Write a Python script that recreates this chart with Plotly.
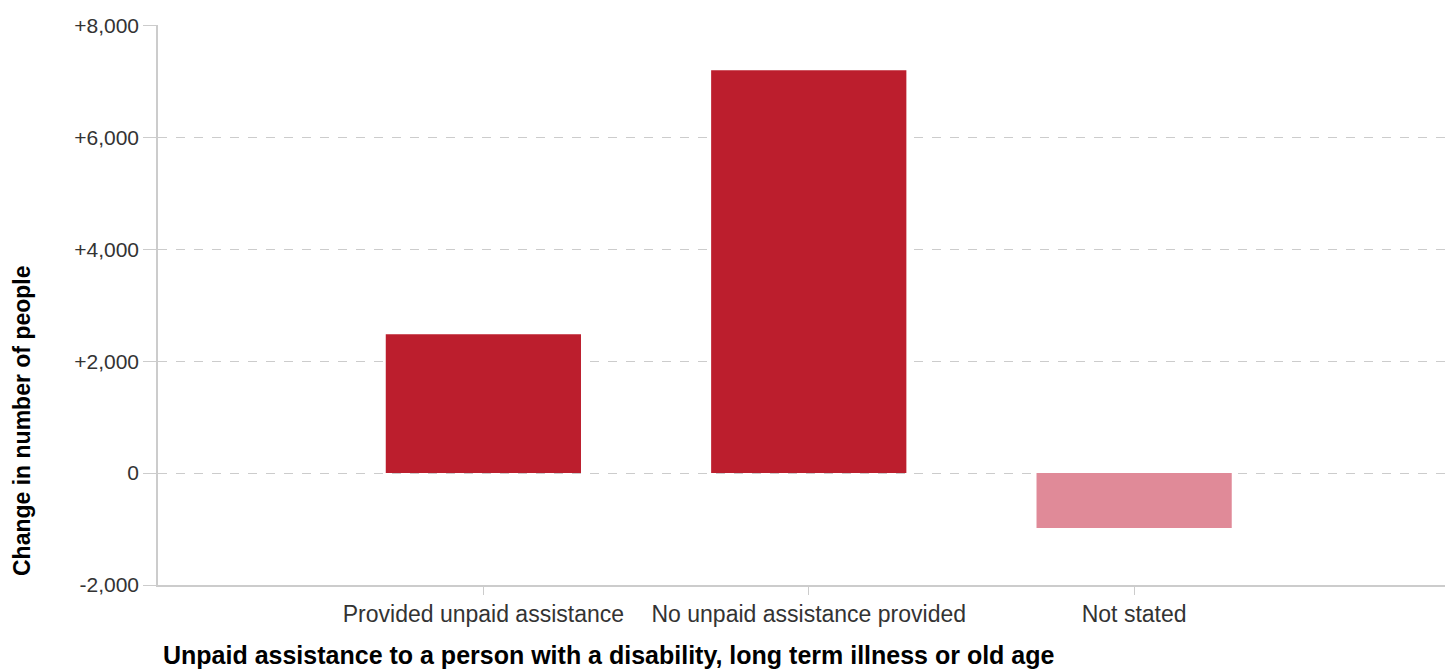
import plotly.graph_objects as go

categories = ["Provided unpaid assistance", "No unpaid assistance provided", "Not stated"]
values = [2480, 7200, -980]
bar_colors = ["#BC1E2D", "#BC1E2D", "#E08A98"]
y_ticks = [-2000, 0, 2000, 4000, 6000, 8000]
y_tick_labels = ["-2,000", "0", "+2,000", "+4,000", "+6,000", "+8,000"]

FONT = "Liberation Sans, Arial, sans-serif"

fig = go.Figure()
fig.add_trace(go.Bar(
    x=categories, y=values,
    marker=dict(color=bar_colors, line=dict(width=0)),
    width=0.6,
))

fig.update_layout(
    width=1445, height=664,
    margin=dict(l=150, r=0, t=17, b=87),
    paper_bgcolor="white", plot_bgcolor="white",
    showlegend=False,
    font=dict(family=FONT, size=21, color="#333333"),
    xaxis=dict(
        range=[-1, 2.98],
        showgrid=False,
        showline=True, linecolor="#CCCCCC", linewidth=1.5,
        ticks="outside", ticklen=8, tickcolor="#CCCCCC",
        tickfont=dict(family=FONT, size=23, color="#333333"),
        zeroline=False,
    ),
    yaxis=dict(
        range=[-2000, 8010],
        tickvals=y_ticks, ticktext=y_tick_labels,
        showgrid=True, gridcolor="#CCCCCC", griddash="dash", gridwidth=1,
        showline=True, linecolor="#CCCCCC", linewidth=1.5,
        ticks="outside", ticklen=13, tickcolor="#CCCCCC",
        tickfont=dict(family=FONT, size=21, color="#333333"),
        zeroline=False,
    ),
    annotations=[
        dict(
            text="<b>Unpaid assistance to a person with a disability, long term illness or old age</b>",
            xref="paper", yref="paper", x=0, y=0, xanchor="left", yanchor="middle",
            xshift=3, yshift=-70, showarrow=False,
            font=dict(family=FONT, size=25, color="#000000"),
        ),
        dict(
            text="<b>Change in number of people</b>",
            xref="paper", yref="paper", x=0, y=0.5, xanchor="center", yanchor="middle",
            xshift=-136, yshift=-116, textangle=-90, showarrow=False,
            font=dict(family=FONT, size=23, color="#000000"),
        ),
    ],
)

fig.write_html("out.html")
